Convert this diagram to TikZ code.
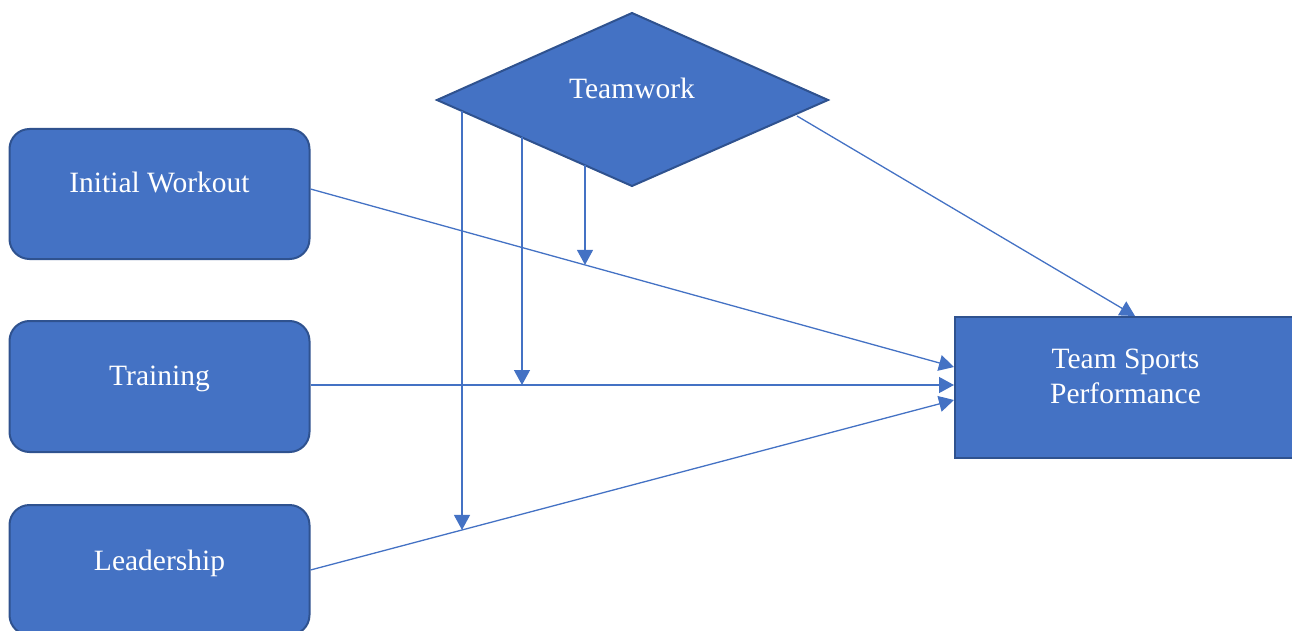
\documentclass[tikz,border=0pt]{standalone}
\usepackage{fontspec}
\setmainfont{Liberation Serif}
\usetikzlibrary{arrows.meta,calc}
\definecolor{fillb}{HTML}{4472C4}
\definecolor{edgeb}{HTML}{2F528F}
\definecolor{lineb}{HTML}{4472C4}
\begin{document}
\begin{tikzpicture}[x=1pt,y=-1pt,
  box/.style={draw=edgeb,line width=2pt,fill=fillb,rounded corners=20pt,minimum width=300pt,minimum height=130pt,inner sep=0pt},
  rbox/.style={draw=edgeb,line width=2pt,fill=fillb,minimum width=341pt,minimum height=141pt,inner sep=0pt},
  lbl/.style={text=white,font=\fontsize{29.5}{36}\selectfont,anchor=base,align=center,inner sep=0pt},
  conn/.style={draw=lineb,line width=1.3pt,-{Triangle[length=15pt,width=16pt]}}]
\useasboundingbox (0,0) rectangle (1292,631);
\clip (0,0) rectangle (1292,631);
% boxes
\node[box] (iw) at (159.5,194) {};
\node[box,minimum height=131pt] (tr) at (159.5,386.5) {};
\node[box] (ld) at (159.5,570) {};
\node[rbox] (tsp) at (1125.5,387.5) {};
% diamond
\coordinate (dl) at (437,100);
\coordinate (dt) at (632,13);
\coordinate (dr) at (828,100);
\coordinate (db) at (632,186);
\draw[edgeb,line width=2pt,fill=fillb,line join=miter] (dl) -- (dt) -- (dr) -- (db) -- cycle;
% labels
\node[lbl] (iwt) at (159.5,193) {Initial Workout};
\node[lbl] (trt) at (159.5,385) {Training};
\node[lbl] (ldt) at (159.5,570) {Leadership};
\node[lbl] (tspt) at (1125.5,368) {Team Sports};
\node[lbl] (tspt2) at (1125.5,403) {Performance};
\node[lbl] (twt) at (632,99) {Teamwork};
% main connectors
\draw[conn] ([yshift=5pt]iw.east) -- coordinate[pos=0.4264] (iwm) ([yshift=20.5pt]tsp.west);
\draw[conn] ([yshift=1.5pt]tr.east) -- coordinate[pos=0.3287] (trm) ([yshift=2.5pt]tsp.west);
\draw[conn] (ld.east) -- coordinate[pos=0.2357] (ldm) ([yshift=-12.5pt]tsp.west);
\coordinate (two) at (797,116);
\draw[conn] (two) -- ([xshift=9.5pt]tsp.north);
% moderating connectors
\coordinate (m1) at ($(dl)!0.7590!(db)$);
\coordinate (m2) at ($(dl)!0.4359!(db)$);
\coordinate (m3) at ($(dl)!0.1282!(db)$);
\draw[conn] (m1) -- (m1 |- iwm);
\draw[conn] (m2) -- (m2 |- trm);
\draw[conn] (m3) -- (m3 |- ldm);
\end{tikzpicture}
\end{document}
